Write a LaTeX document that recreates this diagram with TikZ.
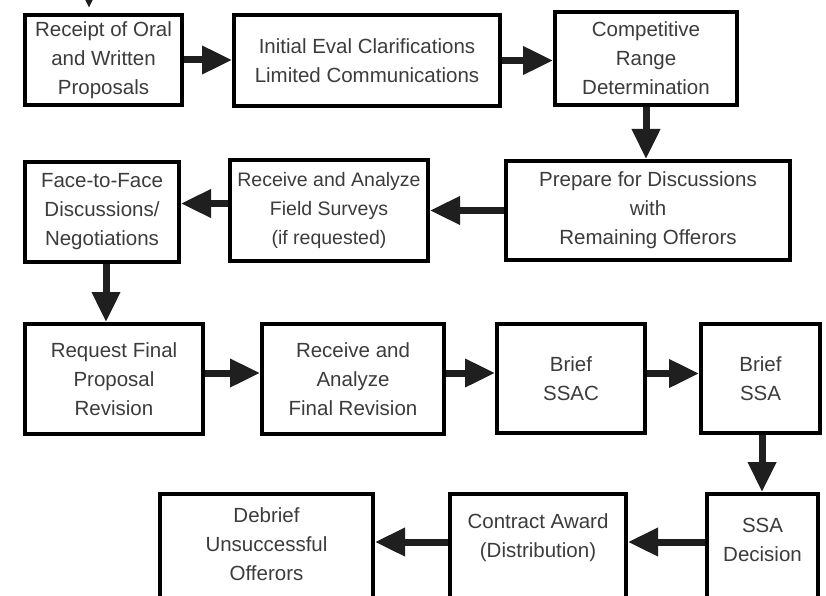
\documentclass[tikz,border=0pt]{standalone}
\usepackage{fontspec}
\setmainfont{Liberation Sans}
\usetikzlibrary{arrows.meta,shadows}
\definecolor{txt}{HTML}{3C3C3C}
\begin{document}
\begin{tikzpicture}[x=1pt,y=-1pt,
  box/.style={draw=black, line width=4pt, fill=white, inner sep=0pt, align=center,
    font=\fontsize{20.5}{29}\selectfont, text=txt,
    drop shadow={shadow xshift=1.5pt, shadow yshift=-1.5pt, opacity=0.3, fill=gray}},
  lbl/.style={align=center, inner sep=0pt, font=\fontsize{20.5}{29}\selectfont, text=txt},
  arr/.style={line width=7pt, draw=black!88, -{Triangle[length=30pt,width=27pt]}}]
\useasboundingbox (0,0) rectangle (826,596);
\clip (0,0) rectangle (826,596);
\fill[white] (0,0) rectangle (826,596);
% row 1
\node[box, minimum width=157pt, minimum height=90pt] (A) at (103.5,60) {Receipt of Oral\\and Written\\Proposals};
\node[box, minimum width=266pt, minimum height=91pt] (B) at (367,60.5) {Initial Eval Clarifications\\Limited Communications};
\node[box, minimum width=182pt, minimum height=93pt] (C) at (646,58.5) {Competitive\\Range\\Determination};
% row 2
\node[box, minimum width=284pt, minimum height=99pt] (D) at (648,210.5) {Prepare for Discussions\\with\\Remaining Offerors};
\node[box, minimum width=198pt, minimum height=101pt, font=\fontsize{19.5}{29}\selectfont] (E) at (329,210.5) {Receive and Analyze\\Field Surveys\\(if requested)};
\node[box, minimum width=154pt, minimum height=100pt] (F) at (102,212) {Face-to-Face\\Discussions/\\Negotiations};
% row 3
\node[box, minimum width=178pt, minimum height=110pt] (G) at (114,379) {Request Final\\Proposal\\Revision};
\node[box, minimum width=182pt, minimum height=110pt] (H) at (353,379) {Receive and\\Analyze\\Final Revision};
\node[box, minimum width=148pt, minimum height=109pt] (I) at (571,378.5) {Brief\\SSAC};
\node[box, minimum width=119pt, minimum height=109pt] (J) at (760.5,378.5) {Brief\\SSA};
% row 4 (cut off at the bottom)
\node[box, anchor=north, minimum width=111pt, minimum height=160pt] (K) at (762.5,492) {};
\node[box, anchor=north, minimum width=176pt, minimum height=160pt] (M) at (538,492) {};
\node[box, anchor=north, minimum width=213pt, minimum height=160pt] (L) at (266.5,492) {};
\node[lbl] (Ktxt) at (762.5,540) {SSA\\Decision};
\node[lbl] (Mtxt) at (538,538) {Contract Award\\(Distribution)};
\node[lbl] (Ltxt) at (266.5,544) {Debrief\\Unsuccessful\\Offerors};
% connectors
\coordinate (in) at (89,-30);
\draw[arr] (in) -- (89,8);
\draw[arr] (A.east) -- (A.east -| B.west);
\draw[arr] (B.east) -- (B.east -| C.west);
\draw[arr] (C.south) -- (C.south |- D.north);
\draw[arr] (D.west) -- (D.west -| E.east);
\draw[arr] ([yshift=7pt]E.west) -- ([yshift=7pt]E.west -| F.east);
\draw[arr] ([xshift=4pt]F.south) -- ([xshift=4pt]F.south |- G.north);
\draw[arr] ([yshift=6pt]G.east) -- ([yshift=6pt]G.east -| H.west);
\draw[arr] ([yshift=6pt]H.east) -- ([yshift=6pt]H.east -| I.west);
\draw[arr] ([yshift=5pt]I.east) -- ([yshift=5pt]I.east -| J.west);
\draw[arr] ([xshift=1.5pt]J.south) -- ([xshift=1.5pt]J.south |- K.north);
\draw[arr] ([yshift=-50pt]K.north west) -- ([yshift=-50pt]K.north west -| M.east);
\draw[arr] ([yshift=-50pt]M.north west) -- ([yshift=-50pt]M.north west -| L.east);
\end{tikzpicture}
\end{document}
